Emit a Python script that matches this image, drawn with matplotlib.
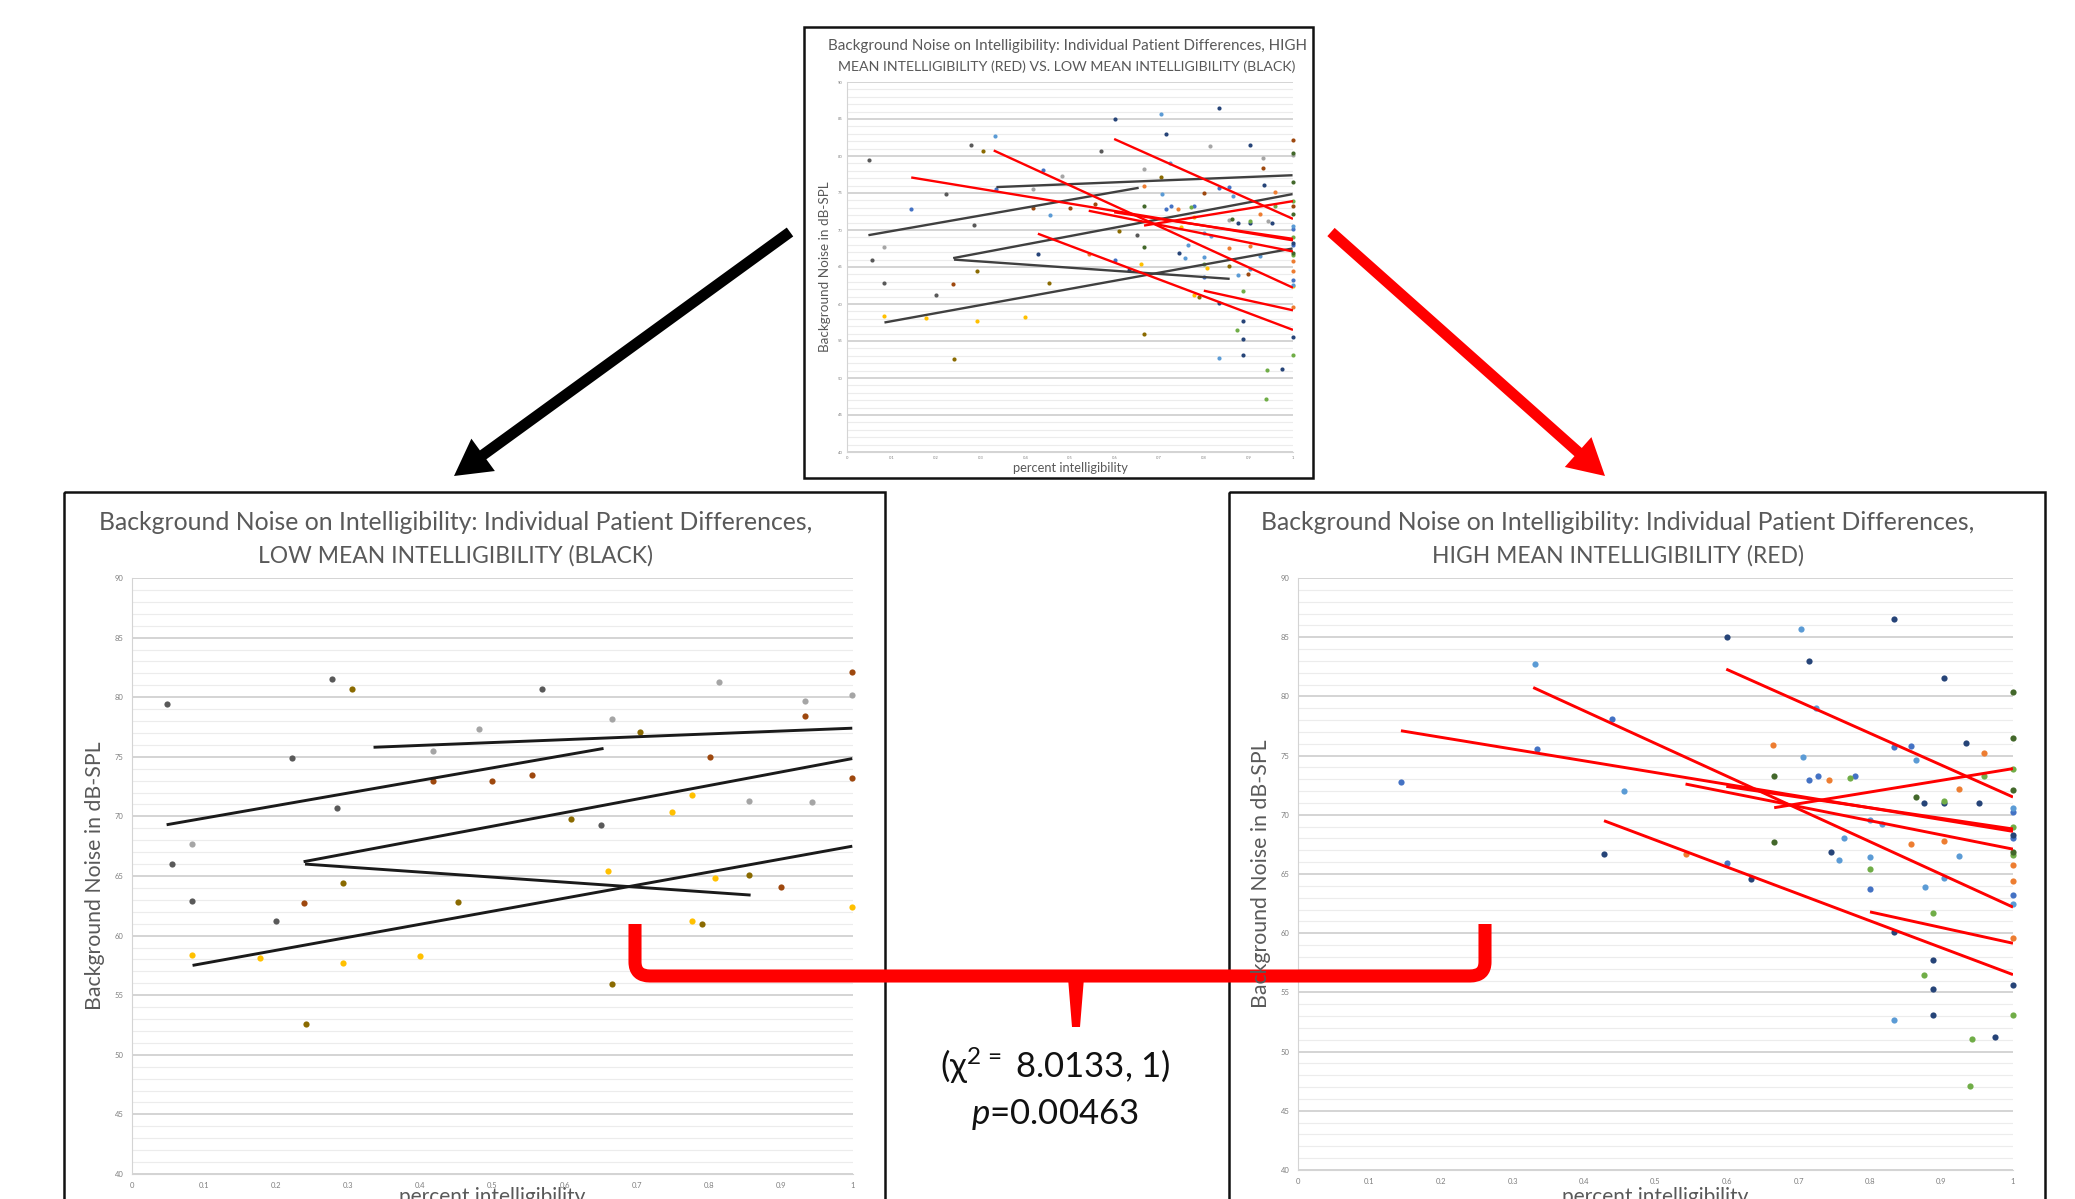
import matplotlib
matplotlib.use("Agg")
import matplotlib.pyplot as plt
from matplotlib.patches import FancyArrow, PathPatch, Rectangle, Polygon
from matplotlib.path import Path

plt.rcParams["font.family"] = ["Lato", "DejaVu Sans"]
plt.rcParams["mathtext.fontset"] = "custom"
plt.rcParams["mathtext.rm"] = "Lato"
plt.rcParams["mathtext.it"] = "Lato:italic"

# Low mean intelligibility patients (black fits)
low_darkgray_x = [0.049, 0.055, 0.083, 0.200, 0.222, 0.278, 0.285, 0.569, 0.651]
low_darkgray_y = [79.4, 66.0, 62.9, 61.2, 74.9, 81.5, 70.7, 80.7, 69.3]
low_gray_x = [0.083, 0.417, 0.481, 0.666, 0.814, 0.856, 0.933, 0.943, 0.999]
low_gray_y = [67.7, 75.5, 77.3, 78.2, 81.3, 71.3, 79.7, 71.2, 80.2]
low_gold_x = [0.083, 0.178, 0.292, 0.399, 0.660, 0.749, 0.777, 0.777, 0.808, 0.999]
low_gold_y = [58.4, 58.1, 57.7, 58.3, 65.4, 70.4, 71.8, 61.2, 64.8, 62.4]
low_darkgold_x = [0.241, 0.292, 0.305, 0.452, 0.609, 0.666, 0.704, 0.790, 0.856]
low_darkgold_y = [52.6, 64.4, 80.7, 62.8, 69.8, 55.9, 77.1, 61.0, 65.1]
low_brown_x = [0.238, 0.417, 0.499, 0.555, 0.801, 0.900, 0.933, 0.999, 0.999]
low_brown_y = [62.7, 73.0, 73.0, 73.5, 75.0, 64.1, 78.4, 82.1, 73.2]

low_fit_x0 = [0.335, 0.048, 0.238, 0.240, 0.084]
low_fit_y0 = [75.8, 69.3, 66.2, 66.0, 57.5]
low_fit_x1 = [0.999, 0.654, 0.999, 0.858, 0.999]
low_fit_y1 = [77.4, 75.7, 74.85, 63.4, 67.5]

# High mean intelligibility patients (red fits)
high_blue_x = [0.144, 0.334, 0.439, 0.600, 0.715, 0.727, 0.779, 0.800, 0.834, 0.857, 1.0, 1.0, 1.0]
high_blue_y = [72.8, 75.55, 78.1, 65.9, 72.9, 73.3, 73.3, 63.7, 75.7, 75.8, 70.2, 68.0, 63.2]
high_lightblue_x = [0.331, 0.456, 0.704, 0.706, 0.725, 0.757, 0.764, 0.800, 0.800, 0.817,
                    0.834, 0.865, 0.877, 0.904, 0.925, 1.0, 1.0]
high_lightblue_y = [82.7, 72.0, 85.7, 74.9, 79.0, 66.2, 68.0, 69.55, 66.4, 69.2,
                    52.7, 74.6, 63.9, 64.7, 66.5, 70.6, 62.5]
high_darkblue_x = [0.428, 0.600, 0.633, 0.715, 0.745, 0.834, 0.834, 0.876, 0.888, 0.888,
                   0.888, 0.904, 0.904, 0.934, 0.953, 0.975, 1.0, 1.0]
high_darkblue_y = [66.7, 85.0, 64.6, 83.0, 66.9, 86.5, 60.1, 71.0, 57.7, 55.3,
                   53.1, 81.55, 71.0, 76.1, 71.0, 51.2, 68.3, 55.6]
high_green_x = [0.772, 0.800, 0.875, 0.888, 0.904, 0.942, 0.940, 0.959, 1.0, 1.0, 1.0, 1.0]
high_green_y = [73.1, 65.4, 56.5, 61.7, 71.2, 51.1, 47.1, 73.3, 73.9, 69.0, 66.6, 53.1]
high_darkgreen_x = [0.666, 0.666, 0.864, 1.0, 1.0, 1.0, 1.0]
high_darkgreen_y = [73.3, 67.7, 71.5, 80.4, 76.5, 72.1, 66.9]
high_orange_x = [0.542, 0.665, 0.743, 0.857, 0.904, 0.925, 0.959, 1.0, 1.0, 1.0]
high_orange_y = [66.7, 75.9, 72.9, 67.5, 67.8, 72.2, 75.2, 65.8, 64.4, 59.6]

high_fit_x0 = [0.599, 0.329, 0.144, 0.542, 0.599, 0.666, 0.428, 0.800]
high_fit_y0 = [82.3, 80.75, 77.1, 72.6, 72.4, 70.6, 69.5, 61.8]
high_fit_x1 = [1.0, 1.0, 1.0, 1.0, 1.0, 1.0, 1.0, 1.0]
high_fit_y1 = [71.5, 62.2, 68.6, 67.1, 68.8, 73.9, 56.5, 59.15]

x_ticks = [0, 0.1, 0.2, 0.3, 0.4, 0.5, 0.6, 0.7, 0.8, 0.9, 1]
x_tick_labels = ["0", "0.1", "0.2", "0.3", "0.4", "0.5", "0.6", "0.7", "0.8", "0.9", "1"]
y_ticks = [40, 45, 50, 55, 60, 65, 70, 75, 80, 85, 90]

chi_text = r"(χ$^{2\,=}$ 8.0133, 1)"
p_text = r"$p$=0.00463"

low_groups = [
    (low_darkgray_x, low_darkgray_y, "#595959"),
    (low_gray_x, low_gray_y, "#a5a5a5"),
    (low_gold_x, low_gold_y, "#ffc000"),
    (low_darkgold_x, low_darkgold_y, "#8a6a00"),
    (low_brown_x, low_brown_y, "#9e480e"),
]
high_groups = [
    (high_blue_x, high_blue_y, "#4472c4"),
    (high_lightblue_x, high_lightblue_y, "#5b9bd5"),
    (high_darkblue_x, high_darkblue_y, "#264478"),
    (high_green_x, high_green_y, "#70ad47"),
    (high_darkgreen_x, high_darkgreen_y, "#43682b"),
    (high_orange_x, high_orange_y, "#ed7d31"),
]

W, H = 2075, 1199
fig = plt.figure(figsize=(W / 100, H / 100), dpi=100, facecolor="white")


def add_panel(x0, x1, y90, y40):
    return fig.add_axes([x0 / W, 1 - y40 / H, (x1 - x0) / W, (y40 - y90) / H])


def style_axes(ax, tick_fs):
    ax.set_xlim(0, 1)
    ax.set_ylim(40, 90)
    ax.set_xticks(x_ticks)
    ax.set_xticklabels(x_tick_labels)
    ax.set_yticks(y_ticks)
    ax.set_yticks(range(40, 91), minor=True)
    ax.grid(axis="y", which="major", color="#d4d4d4", lw=1.4, zorder=0)
    ax.grid(axis="y", which="minor", color="#ececec", lw=0.8, zorder=0)
    ax.tick_params(which="both", length=0, labelsize=tick_fs, colors="#7f7f7f", pad=6)
    for s in ["top", "right"]:
        ax.spines[s].set_visible(False)
    for s in ["left", "bottom"]:
        ax.spines[s].set_color("#d4d4d4")
    ax.set_axisbelow(True)


def draw_data(ax, groups, fx0, fy0, fx1, fy1, line_color, ms, lw):
    for gx, gy, col in groups:
        ax.scatter(gx, gy, s=ms, color=col, zorder=3, clip_on=False, linewidths=0)
    for a, b, c, d in zip(fx0, fy0, fx1, fy1):
        ax.plot([a, c], [b, d], color=line_color, lw=lw, zorder=4, solid_capstyle="butt")


# Top combined panel
ax_top = add_panel(847, 1293, 82, 452)
style_axes(ax_top, 3)
ax_top.tick_params(pad=3)
draw_data(ax_top, low_groups + high_groups, [], [], [], [], None, 9, 1.6)
draw_data(ax_top, [], low_fit_x0, low_fit_y0, low_fit_x1, low_fit_y1, "#404040", 9, 1.7)
draw_data(ax_top, [], high_fit_x0, high_fit_y0, high_fit_x1, high_fit_y1, "#ff0000", 9, 1.7)

# Left: low mean intelligibility
ax_low = add_panel(132, 853, 578, 1174)
style_axes(ax_low, 5.5)
draw_data(ax_low, low_groups, low_fit_x0, low_fit_y0, low_fit_x1, low_fit_y1, "#1a1a1a", 20, 2.1)

# Right: high mean intelligibility
ax_high = add_panel(1298, 2013, 578, 1170)
style_axes(ax_high, 5.5)
draw_data(ax_high, high_groups, high_fit_x0, high_fit_y0, high_fit_x1, high_fit_y1, "#ff0000", 20, 2.1)

# Overlay in pixel coordinates
ov = fig.add_axes([0, 0, 1, 1], zorder=10)
ov.set_xlim(0, W)
ov.set_ylim(H, 0)
ov.axis("off")

grey = "#595959"

# panel frames
for (x, y, w, h) in [(804, 27, 509, 451), (64, 492, 821, 720), (1229, 492, 816, 720)]:
    ov.add_patch(Rectangle((x, y), w, h, fill=False, lw=1.8, edgecolor="#111111", clip_on=False))

# titles
ov.text(1067, 46, "Background Noise on Intelligibility: Individual Patient Differences, HIGH",
        ha="center", va="center", fontsize=10.9, color=grey)
ov.text(1067, 67, "MEAN INTELLIGIBILITY (RED) VS. LOW MEAN INTELLIGIBILITY (BLACK)",
        ha="center", va="center", fontsize=10.2, color=grey)
ov.text(456, 522, "Background Noise on Intelligibility: Individual Patient Differences,",
        ha="center", va="center", fontsize=17.8, color=grey)
ov.text(456, 556, "LOW MEAN INTELLIGIBILITY (BLACK)",
        ha="center", va="center", fontsize=16.5, color=grey)
ov.text(1618, 522, "Background Noise on Intelligibility: Individual Patient Differences,",
        ha="center", va="center", fontsize=17.8, color=grey)
ov.text(1618, 556, "HIGH MEAN INTELLIGIBILITY (RED)",
        ha="center", va="center", fontsize=16.5, color=grey)

# axis labels
ov.text(825, 267, "Background Noise in dB-SPL", rotation=90, ha="center", va="center",
        fontsize=9.7, color=grey)
ov.text(1070, 468, "percent intelligibility", ha="center", va="center", fontsize=9.3, color=grey)
ov.text(95, 876, "Background Noise in dB-SPL", rotation=90, ha="center", va="center",
        fontsize=15.3, color=grey)
ov.text(492, 1197, "percent intelligibility", ha="center", va="center", fontsize=15, color=grey)
ov.text(1261, 874, "Background Noise in dB-SPL", rotation=90, ha="center", va="center",
        fontsize=15.3, color=grey)
ov.text(1655, 1197, "percent intelligibility", ha="center", va="center", fontsize=15, color=grey)

# arrows
ov.add_patch(FancyArrow(790, 232, 454 - 790, 476 - 232, width=11, head_width=40, head_length=36,
                        length_includes_head=True, color="black", lw=0))
ov.add_patch(FancyArrow(1331, 232, 1605 - 1331, 476 - 232, width=11, head_width=40, head_length=36,
                        length_includes_head=True, color="#ff0000", lw=0))

# bracket
verts = [(635, 924), (635, 962), (635, 976), (650, 976), (1470, 976), (1485, 976), (1485, 962), (1485, 924)]
codes = [Path.MOVETO, Path.LINETO, Path.CURVE3, Path.CURVE3, Path.LINETO, Path.CURVE3, Path.CURVE3, Path.LINETO]
ov.add_patch(PathPatch(Path(verts, codes), fill=False, lw=9.4, edgecolor="#ff0000", capstyle="butt",
                       joinstyle="round"))
ov.add_patch(Polygon([(1068, 978), (1084, 978), (1080, 1027), (1072, 1027)], closed=True,
                     color="#ff0000", lw=0))

# statistics
ov.text(1055, 1066, chi_text, ha="center", va="center", fontsize=25, color="#111111")
ov.text(1055, 1114, p_text, ha="center", va="center", fontsize=25, color="#111111")

fig.savefig("out.png", dpi=100, facecolor="white")
